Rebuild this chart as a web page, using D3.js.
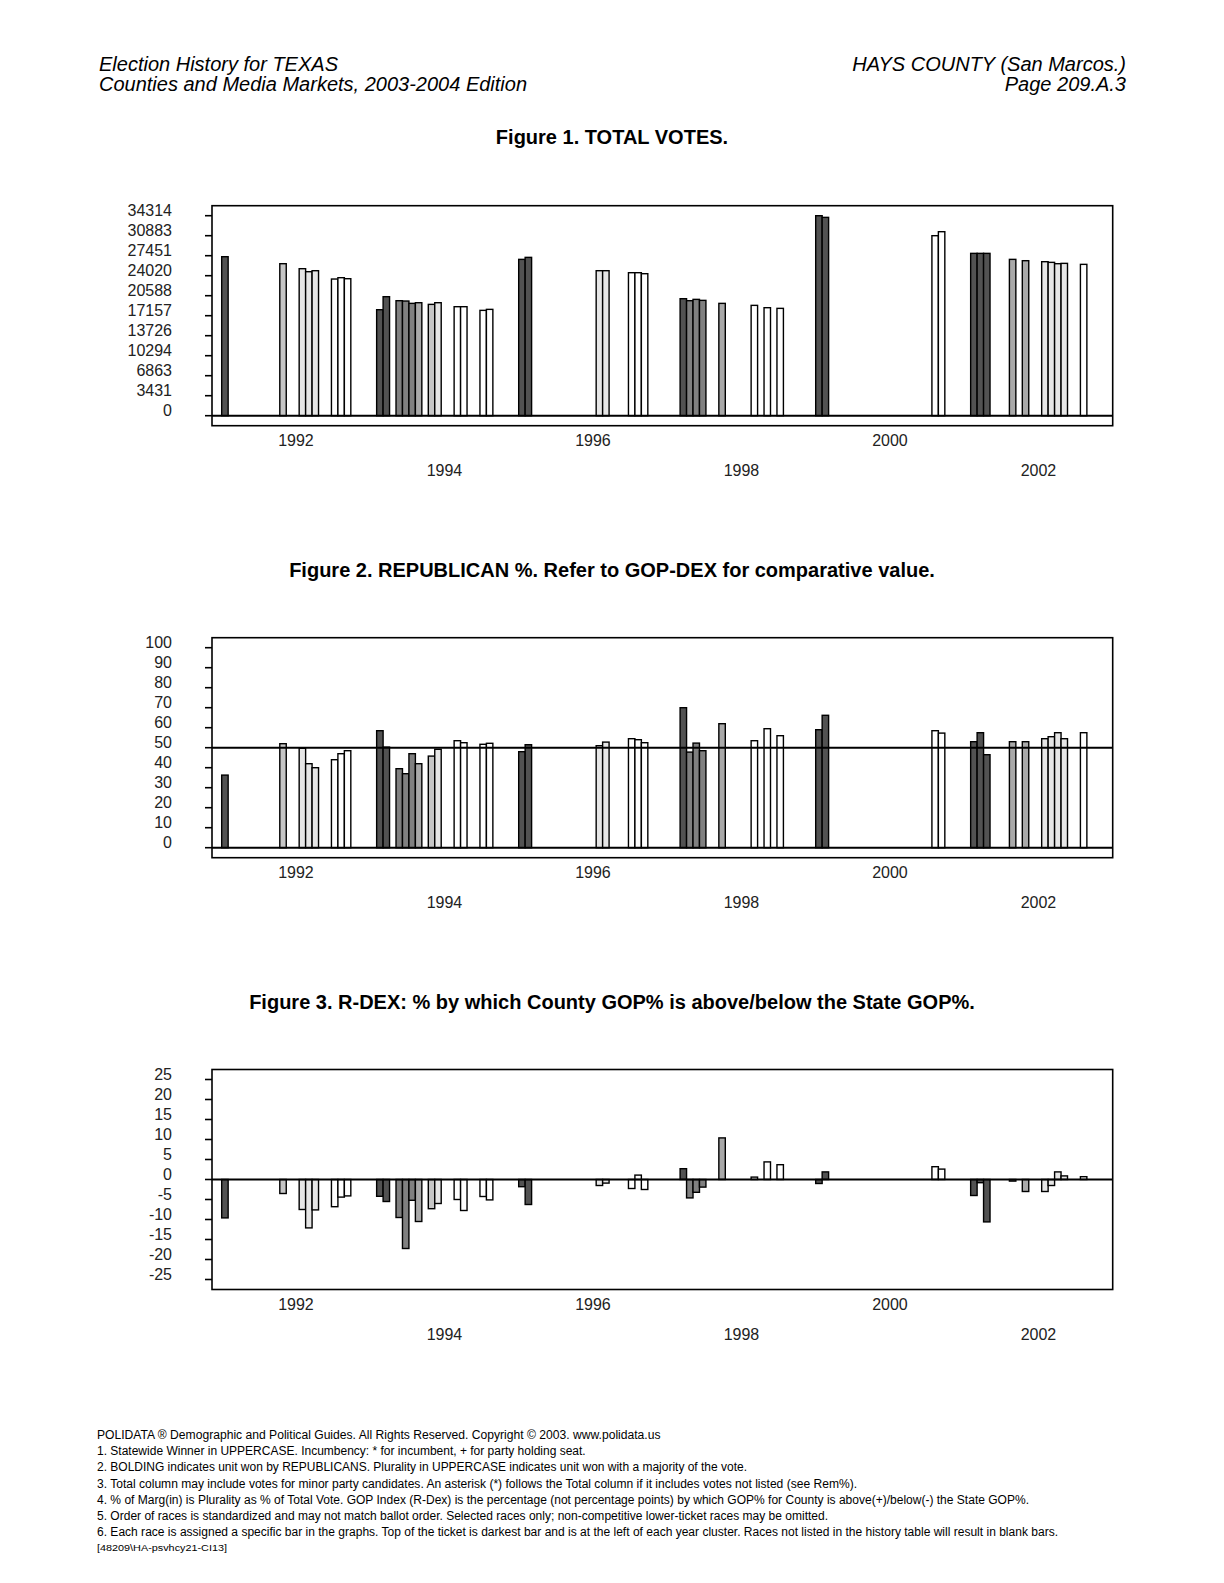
<!DOCTYPE html>
<html><head><meta charset="utf-8">
<script src="https://cdn.jsdelivr.net/npm/d3@7/dist/d3.min.js"></script>
<style>
body{margin:0;background:#fff}
svg{display:block}
text{font-family:"Liberation Sans",Arial,Helvetica,sans-serif;fill:#000}
</style>
</head><body>
<svg id="c" width="1224" height="1583"></svg>
<script>
// ---------------- DATA ----------------
const years = [1992, 1994, 1996, 1998, 2000, 2002];
const slotsPerYear = 23;
// each bar: election year, race slot within year cluster, ticket rank (0 = top of ticket, darkest)
const barYear = [1992,1992,1992,1992,1992,1992,1992,1992,
                 1994,1994,1994,1994,1994,1994,1994,1994,1994,1994,1994,1994,
                 1996,1996,1996,1996,1996,1996,1996,
                 1998,1998,1998,1998,1998,1998,1998,1998,
                 2000,2000,2000,2000,
                 2002,2002,2002,2002,2002,2002,2002,2002,2002,2002];
const barSlot = [0,9,12,13,14,17,18,19,
                 1,2,4,5,6,7,9,10,13,14,17,18,
                 0,1,12,13,17,18,19,
                 2,3,4,5,8,13,15,17,
                 0,1,18,19,
                 1,2,3,7,9,12,13,14,15,18];
const barRank = [0,3,4,4,4,5,5,5,
                 0,0,1,1,1,2,3,4,5,5,5,5,
                 0,0,4,4,5,5,5,
                 0,1,1,1,2,5,5,5,
                 0,0,5,5,
                 0,0,0,2,2,4,4,4,4,5];
const totalVotes = [27280,26079,25221,24706,24878,23448,23677,23505,
                    18186,20417,19731,19673,19273,19387,19101,19387,18701,18701,18072,18244,
                    26822,27165,24878,24878,24535,24535,24363,
                    20074,19731,19960,19788,19273,18930,18530,18415,
                    34314,34028,30883,31569,
                    27852,27852,27852,26822,26594,26422,26308,26079,26136,25965];
const repPct = [36.3,52.0,49.7,42.0,40.0,44.0,47.0,48.5,
                58.5,50.3,39.5,37.0,47.0,42.0,45.8,49.2,53.5,52.5,51.7,52.2,
                48.0,51.5,51.0,52.8,54.5,54.0,52.5,
                70.0,47.8,52.3,48.5,62.0,53.5,59.5,56.0,
                59.0,66.2,58.5,57.3,
                53.0,57.5,46.5,53.0,53.0,54.5,55.5,57.5,54.5,57.5];
const rdex = [-9.6,-3.5,-7.5,-12.1,-7.6,-6.8,-4.4,-4.1,
              -4.2,-5.5,-9.5,-17.25,-5.2,-10.5,-7.3,-6.0,-5.0,-7.75,-4.25,-5.1,
              -1.8,-6.25,-1.5,-0.9,-2.25,1.1,-2.5,
              2.7,-4.6,-3.2,-1.9,10.4,0.6,4.4,3.7,
              -1.0,1.9,3.2,2.6,
              -4.0,-0.8,-10.6,-0.4,-3.0,-3.0,-1.5,1.9,0.9,0.7];
const votesTicks = [34314,30883,27451,24020,20588,17157,13726,10294,6863,3431,0];
const pctTicks = [100,90,80,70,60,50,40,30,20,10,0];
const rdexTicks = [25,20,15,10,5,0,-5,-10,-15,-20,-25];

const headerLeft = ["Election History for TEXAS", "Counties and Media Markets, 2003-2004 Edition"];
const headerRight = ["HAYS COUNTY (San Marcos.)", "Page 209.A.3"];
const titles = ["Figure 1. TOTAL VOTES.",
                "Figure 2. REPUBLICAN %. Refer to GOP-DEX for comparative value.",
                "Figure 3. R-DEX: % by which County GOP% is above/below the State GOP%."];
const footer = [
 "POLIDATA \u00AE Demographic and Political Guides. All Rights Reserved. Copyright \u00A9 2003. www.polidata.us",
 "1. Statewide Winner in UPPERCASE. Incumbency: * for incumbent, + for party holding seat.",
 "2. BOLDING indicates unit won by REPUBLICANS. Plurality in UPPERCASE indicates unit won with a majority of the vote.",
 "3. Total column may include votes for minor party candidates. An asterisk (*) follows the Total column if it includes votes not listed (see Rem%).",
 "4. % of Marg(in) is Plurality as % of Total Vote. GOP Index (R-Dex) is the percentage (not percentage points) by which GOP% for County is above(+)/below(-) the State GOP%.",
 "5. Order of races is standardized and may not match ballot order. Selected races only; non-competitive lower-ticket races may be omitted.",
 "6. Each race is assigned a specific bar in the graphs. Top of the ticket is darkest bar and is at the left of each year cluster. Races not listed in the history table will result in blank bars.",
 "[48209\\HA-psvhcy21-CI13]"
];

// ---------------- DRAW ----------------
const svg = d3.select("#c");
const rankColor = d3.scaleOrdinal().domain([0,1,2,3,4,5])
  .range(["#525252","#808080","#a9a9a9","#c6c6c6","#e6e6e6","#ffffff"]);

const nSlots = years.length * slotsPerYear;
const x = d3.scaleLinear().domain([-1.5, nSlots]).range([212, 1112.7]);
const gIndex = i => years.indexOf(barYear[i]) * slotsPerYear + barSlot[i];

function fitText(sel, w) {
  sel.attr("textLength", w).attr("lengthAdjust", "spacingAndGlyphs");
}

// header
const hdr = svg.append("g").style("font-style", "italic").style("font-size", "20px");
headerLeft.forEach((t, i) => hdr.append("text").attr("x", 99).attr("y", 71 + i * 20).text(t));
headerRight.forEach((t, i) => hdr.append("text").attr("x", 1126).attr("y", 71 + i * 20)
  .attr("text-anchor", "end").text(t));

function panel(opts) {
  const { top, bottom, ticks, values, titleY, title, refLine } = opts;
  const step = Math.abs(ticks[0] - ticks[1]);
  const tmax = d3.max(ticks), tmin = d3.min(ticks);
  const y = d3.scaleLinear().domain([tmin - step / 2, tmax + step / 2]).range([bottom, top]);
  const g = svg.append("g");

  g.append("text").attr("x", 612).attr("y", titleY).attr("text-anchor", "middle")
    .style("font-weight", "bold").style("font-size", "20px").text(title);

  // bars
  g.append("g").selectAll("rect").data(values).join("rect")
    .attr("x", (d, i) => x(gIndex(i)))
    .attr("width", (d, i) => x(gIndex(i) + 1) - x(gIndex(i)))
    .attr("y", d => Math.min(y(d), y(0)))
    .attr("height", d => Math.abs(y(d) - y(0)))
    .attr("fill", (d, i) => rankColor(barRank[i]))
    .attr("stroke", "#000").attr("stroke-width", 1.4);

  // zero line & reference line
  [0].concat(refLine != null ? [refLine] : []).forEach(v => {
    g.append("line").attr("x1", x(-1.5)).attr("x2", x(nSlots))
      .attr("y1", y(v)).attr("y2", y(v)).attr("stroke", "#000").attr("stroke-width", 2);
  });

  // frame
  g.append("rect").attr("x", x(-1.5)).attr("y", top)
    .attr("width", x(nSlots) - x(-1.5)).attr("height", bottom - top)
    .attr("fill", "none").attr("stroke", "#000").attr("stroke-width", 1.6);

  // y axis ticks & labels
  g.append("g").selectAll("line").data(ticks).join("line")
    .attr("x1", x(-1.5) - 7).attr("x2", x(-1.5))
    .attr("y1", d => y(d)).attr("y2", d => y(d))
    .attr("stroke", "#000").attr("stroke-width", 1.6);
  g.append("g").selectAll("text").data(ticks).join("text")
    .attr("x", 172).attr("y", d => y(d)).attr("text-anchor", "end")
    .style("font-size", "16px").style("fill", "#222").text(d => String(d));

  // x labels (staggered)
  years.forEach((yr, k) => {
    g.append("text")
      .attr("x", x(k * slotsPerYear + (slotsPerYear - 1) / 2 + 0.5))
      .attr("y", bottom + 20.5 + (k % 2) * 30)
      .attr("text-anchor", "middle").style("font-size", "16px").style("fill", "#222")
      .text(yr);
  });
}

panel({ top: 205.7, bottom: 425.7, ticks: votesTicks, values: totalVotes, titleY: 144, title: titles[0] });
panel({ top: 637.7, bottom: 857.7, ticks: pctTicks, values: repPct, titleY: 576.5, title: titles[1], refLine: 50 });
panel({ top: 1069.5, bottom: 1289.5, ticks: rdexTicks, values: rdex, titleY: 1009, title: titles[2] });

// footer
const footW = [563.5, 488.7, 650, 760, 932, 731, 961, 130];
const foot = svg.append("g");
footer.forEach((t, i) => {
  const last = i === footer.length - 1;
  const tx = foot.append("text").attr("x", 97)
    .attr("y", last ? 1551 : 1439 + i * 16.2)
    .style("font-size", last ? "8.5px" : "12px").text(t);
  fitText(tx, footW[i]);
});
</script>
</body></html>
